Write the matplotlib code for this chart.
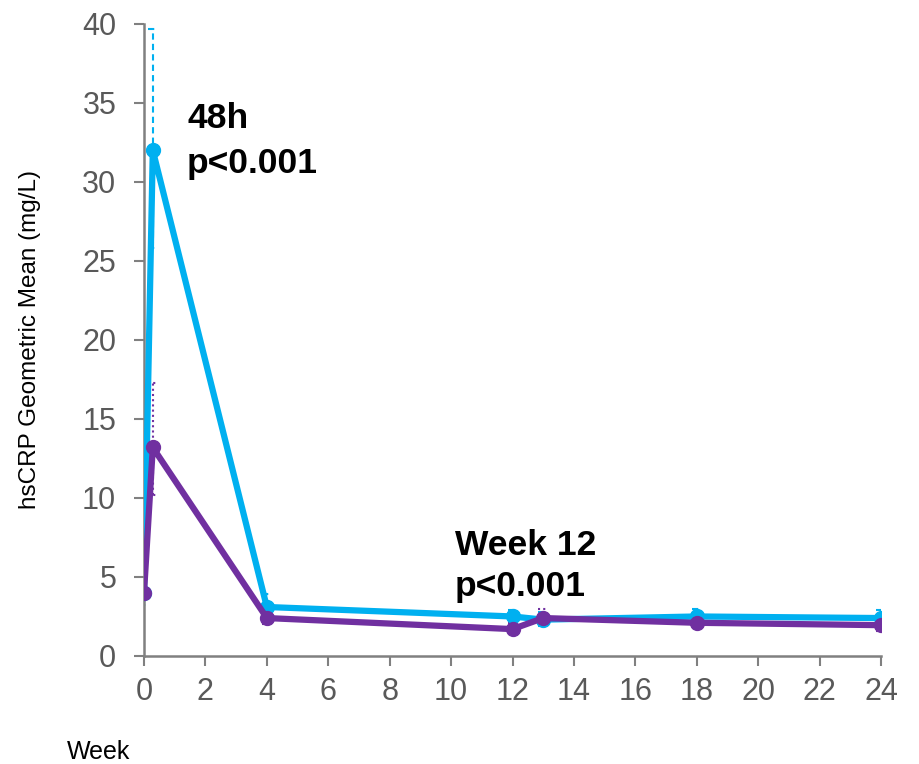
import matplotlib
matplotlib.use("Agg")
import matplotlib.pyplot as plt

weeks = [0, 0.286, 4, 12, 13, 18, 24]
blue_vals = [4.0, 32.0, 3.1, 2.5, 2.3, 2.5, 2.4]
blue_lo = [3.2, 25.8, 2.5, 2.1, 1.9, 2.1, 2.0]
blue_hi = [5.0, 39.7, 3.9, 2.9, 2.8, 3.0, 2.9]
purple_vals = [4.0, 13.2, 2.4, 1.7, 2.4, 2.1, 1.95]
purple_lo = [3.6, 10.2, 2.0, 1.4, 2.0, 1.8, 1.6]
purple_hi = [4.4, 17.3, 2.9, 2.1, 3.0, 2.5, 2.4]

yticks = [0, 5, 10, 15, 20, 25, 30, 35, 40]
xticks = [0, 2, 4, 6, 8, 10, 12, 14, 16, 18, 20, 22, 24]

BLUE = "#00B0F0"
PURPLE = "#7030A0"
GRAY = "#808080"

fig = plt.figure(figsize=(9.19, 7.64), dpi=100)
ax = fig.add_axes([0.1567, 0.1414, 0.802, 0.8272])

def errbars(vals, lo, hi, color, ls):
    for x, l, h in zip(weeks, lo, hi):
        ax.plot([x, x], [l, h], color=color, lw=1.5, ls=ls, zorder=2)
        for y in (l, h):
            ax.plot([x - 0.16, x + 0.16], [y, y], color=color, lw=1.5,
                    ls=ls, zorder=2, solid_capstyle="butt")

errbars(blue_vals, blue_lo, blue_hi, BLUE, (0, (3, 2)))
errbars(purple_vals, purple_lo, purple_hi, PURPLE, (0, (1, 1.5)))

ax.plot(weeks, blue_vals, color=BLUE, lw=4.5, marker="o", ms=10, zorder=3)
ax.plot(weeks, purple_vals, color=PURPLE, lw=4.5, marker="o", ms=10, zorder=4)

ax.set_xlim(0, 24)
ax.set_ylim(0, 40)
ax.set_xticks(xticks)
ax.set_yticks(yticks)
ax.tick_params(axis="both", colors=GRAY, labelcolor="#595959", labelsize=22,
               length=7, width=1.5, direction="out")
ax.tick_params(axis="x", pad=8)
ax.tick_params(axis="y", pad=13)
for s in ["top", "right"]:
    ax.spines[s].set_visible(False)
for s in ["left", "bottom"]:
    ax.spines[s].set_color(GRAY)
    ax.spines[s].set_linewidth(1.8)

fam = ["Liberation Sans", "DejaVu Sans"]
for lbl in ax.get_xticklabels() + ax.get_yticklabels():
    lbl.set_family(fam)

ax.set_ylabel("hsCRP Geometric Mean (mg/L)", fontsize=17.5, family=fam,
              color="black", va="center")
ax.yaxis.set_label_coords(-0.155, 0.5)
fig.text(99 / 919, 1 - 752 / 764, "Week", fontsize=18, family=fam,
         ha="center", va="center")

ann = dict(fontsize=25.5, fontweight="bold", family=fam, va="baseline", ha="left")
ax.text(1.40, 33.4, "48h", **ann)
ax.text(1.40, 30.6, "p<0.001", **ann)
ax.text(10.13, 6.39, "Week 12", **ann)
ax.text(10.13, 3.8, "p<0.001", **ann)

fig.savefig("out.png", dpi=100)
